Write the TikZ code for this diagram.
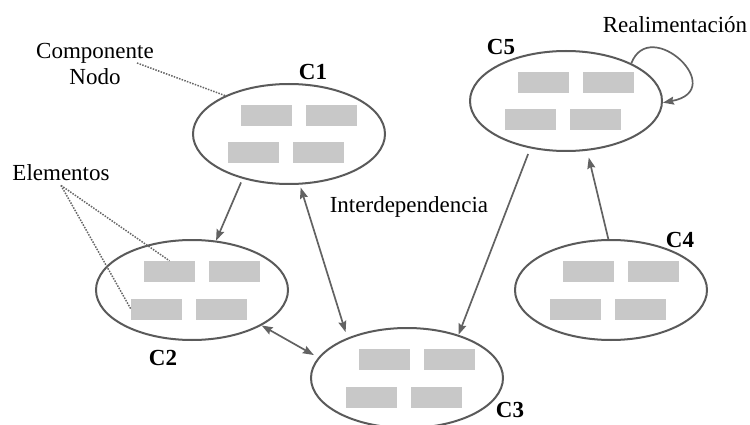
\documentclass[tikz,border=0pt]{standalone}
\usepackage{fontspec}
\setmainfont{Liberation Serif}
\usetikzlibrary{arrows.meta,shapes.geometric}

\definecolor{rim}{HTML}{5A5A5A}
\definecolor{link}{HTML}{626262}
\definecolor{cell}{HTML}{C8C8C8}
\definecolor{dots}{HTML}{666666}

\tikzset{
  comp/.style={ellipse, draw=rim, line width=2pt, minimum width=192pt,
    minimum height=100pt, inner sep=0pt},
  cellbox/.style={fill=cell, minimum width=51pt, minimum height=21pt, inner sep=0pt},
  lbl/.style={font=\fontsize{23}{26}\selectfont, inner sep=0pt},
  tag/.style={font=\fontsize{23}{26}\selectfont\bfseries, inner sep=0pt, anchor=base},
  tip/.style={-{Stealth[length=11pt,width=8pt,inset=1.5pt]}},
  rel/.style={draw=link, line width=1.7pt, tip},
  birel/.style={draw=link, line width=1.7pt,
    {Stealth[length=11pt,width=8pt,inset=1.5pt]}-{Stealth[length=11pt,width=8pt,inset=1.5pt]}},
  hint/.style={draw=dots, line width=1.5pt, dash pattern=on 1.5pt off 1.3pt},
}

% A component: an ellipse holding four element boxes
\newcommand\drawcomponent[3]{%
  \node[comp] (#1) at (#2,#3) {};
  \node[cellbox] (#1-1) at (#2-22.5,#3-18.5) {};
  \node[cellbox] (#1-2) at (#2+42,#3-18.5) {};
  \node[cellbox] (#1-3) at (#2-35.5,#3+19) {};
  \node[cellbox] (#1-4) at (#2+29,#3+19) {};
}

\begin{document}
\begin{tikzpicture}[x=1pt,y=-1pt]
  \useasboundingbox (0,0) rectangle (750,425);

  \drawcomponent{c1}{289}{134}
  \drawcomponent{c2}{192}{290}
  \drawcomponent{c3}{407}{378}
  \drawcomponent{c4}{611}{290}
  \drawcomponent{c5}{566}{101}

  % component labels
  \node[tag] (t1) at (313,80) {C1};
  \node[tag] (t2) at (163,365) {C2};
  \node[tag] (t3) at (510,417) {C3};
  \node[tag] (t4) at (680,247) {C4};
  \node[tag] (t5) at (501,55) {C5};

  % captions
  \node[lbl, align=center] (lblcomp) at (95,64) {Componente\\Nodo};
  \node[lbl, anchor=base] (lblelem) at (61,181) {Elementos};
  \node[lbl, anchor=base] (inter) at (409,212) {Interdependencia};
  \node[lbl, anchor=base] (feedback) at (675,33) {Realimentación};

  % pointers from captions
  \coordinate (compfoot) at (137,63);
  \draw[hint] (compfoot) -- (c1.149);
  \draw[hint] ([yshift=-4pt]lblelem.south) -- (c2-1.north);
  \draw[hint] ([yshift=-4pt]lblelem.south) -- (c2-3.west);

  % relations between components
  \draw[rel, shorten <=4pt] (c1.224) -- (c2.64);
  \draw[birel, shorten <=3pt, shorten >=6pt] (c1.282) -- (c3.146);
  \draw[birel, shorten >=5pt] (c2.333) -- (c3.167);
  \draw[rel, shorten <=6pt] (c5.233) -- (c3.40);
  \draw[rel, shorten >=7pt] (c4.93) -- (c5.293);

  % feedback loop on C5
  \draw[rel] (c5.30) .. controls (650,15) and (730,90) .. (c5.359);
\end{tikzpicture}
\end{document}
